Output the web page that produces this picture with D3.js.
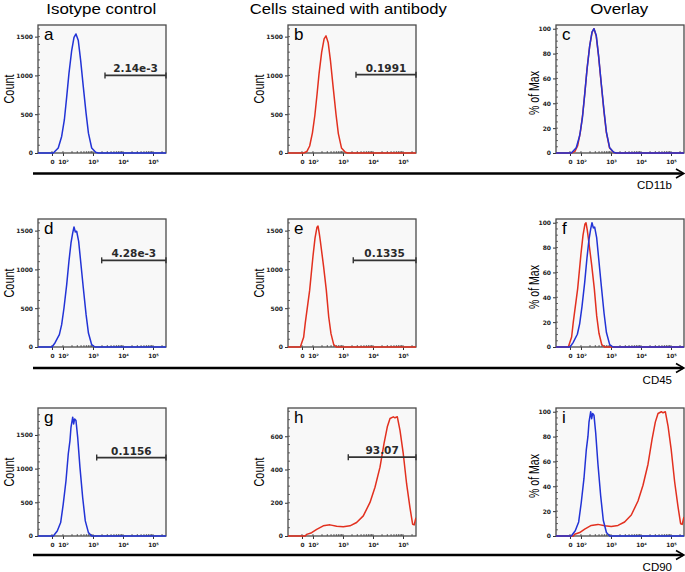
<!DOCTYPE html>
<html><head><meta charset="utf-8">
<script src="https://cdn.jsdelivr.net/npm/d3@7"></script>
<style>body{margin:0;background:#fff}svg{display:block}</style>
</head><body><svg id="c" width="685" height="572"></svg>
<script>
// ---------- data ----------
const columnTitles = ["Isotype control", "Cells stained with antibody", "Overlay"];
const markers = ["CD11b", "CD45", "CD90"];
const panelLetters = [["a","b","c"],["d","e","f"],["g","h","i"]];
const gateLabels = [["2.14e-3","0.1991"],["4.28e-3","0.1335"],["0.1156","93.07"]];
const gateStart = [[2512, 2712],[1950, 2200],[1330, 1500]];
const gateCount = [[1000, 1010],[1117, 1117],[1164, 474]];
const xTickValues = [0, 100, 1000, 10000, 100000];
const xTickLabels = ["0", "10\u00b2", "10\u00b3", "10\u2074", "10\u2075"];
const xMinorTicks = [200,300,400,500,600,700,800,900,2000,3000,4000,5000,6000,7000,8000,9000,
  20000,30000,40000,50000,60000,70000,80000,90000,200000];
const countTicks = [[0,500,1000,1500],[0,500,1000,1500],[0,500,1000,1500]];
const countTicksH = [0,200,400,600];
const pctTicks = [0,20,40,60,80,100];
const countMax = [[1650,1650],[1650,1650],[1900,770]];
const xMin = -127, xMax = 271000;

// isotype control histograms (intensity, count)
const isoCD11b = [[-127,0],[12,0],[57,64],[88,213],[111,426],[133,724],[158,1023],[195,1321],[233,1491],
  [271,1534],[324,1449],[388,1193],[476,852],[589,511],[705,256],[905,64],[1230,9],[1500,0],[271000,0]];
const isoCD45 = [[-127,0],[0,0],[27,52],[67,159],[88,288],[108,503],[133,804],[158,1105],[185,1341],
  [211,1470],[233,1547],[258,1483],[286,1492],[333,1362],[388,1105],[476,761],[589,417],[705,180],
  [905,30],[1170,0],[271000,0]];
const isoCD90 = [[-127,0],[12,0],[48,75],[79,200],[102,472],[126,820],[150,1217],[171,1416],[185,1614],
  [211,1763],[227,1664],[245,1738],[271,1714],[309,1465],[368,1018],[453,571],[554,224],[705,50],
  [905,0],[271000,0]];
// stained cells histograms (intensity, count)
const abCD11b = [[-127,0],[15,0],[45,20],[70,90],[95,260],[115,480],[137,760],[160,1030],[195,1300],
  [235,1470],[272,1510],[322,1420],[385,1180],[470,850],[585,500],[700,250],[890,65],[1200,10],
  [1450,0],[271000,0]];
const abCD45 = [[-127,0],[-15,0],[15,125],[30,312],[70,733],[100,1170],[117,1404],[136,1545],[147,1560],
  [162,1466],[175,1373],[227,1030],[278,733],[334,390],[398,172],[491,31],[602,0],[271000,0]];
const abCD90 = [[-127,0],[30,0],[43,10],[88,20],[133,40],[220,61],[368,67],[616,59],[1021,55],[1711,61],
  [2843,81],[4753,121],[7943,202],[11659,293],[17113,414],[23263,556],[30000,657],[36900,707],
  [47600,717],[54000,711],[64700,717],[79400,636],[102000,495],[132000,313],[170000,172],
  [209000,71],[236000,67],[262000,101],[271000,110]];

const isoData = [isoCD11b, isoCD45, isoCD90];
const abData = [abCD11b, abCD45, abCD90];

// ---------- layout ----------
const W = 128, H = 128;
const colX = [38, 288, 556];
const rowY = [25, 219, 408];
const arrowY = [173.5, 368, 555];
const BLUE = "#2233d6", RED = "#e2301f";
const svg = d3.select("#c");

function tx(v) { return v >= 100 ? Math.log10(v) : 2 - (100 - v) / 100 * 0.3667; }
function makeX() {
  const lin = d3.scaleLinear().domain([tx(xMin), tx(xMax)]).range([0, W]);
  const s = v => lin(tx(v));
  s.copy = () => makeX();
  s.range = () => lin.range();
  s.domain = () => [xMin, xMax];
  return s;
}
const x = makeX();

const clipId = "clipbox";
svg.append("defs").append("clipPath").attr("id", clipId)
  .append("rect").attr("x", 0).attr("y", -1).attr("width", W).attr("height", H + 2);

function panel(r, c) {
  const g = svg.append("g").attr("transform", `translate(${colX[c]},${rowY[r]})`);
  const overlay = c === 2;
  const yMax = overlay ? 103 : countMax[r][c];
  const y = d3.scaleLinear().domain([0, yMax]).range([H, 0]);
  const yTicks = overlay ? pctTicks : (r === 2 && c === 1 ? countTicksH : countTicks[r]);
  const minorStep = overlay ? 5 : (r === 2 && c === 1 ? 50 : 100);

  g.append("rect").attr("width", W).attr("height", H).attr("fill", "#f8f8f8");

  // axes
  const ya = g.append("g").call(d3.axisLeft(y).tickValues(yTicks).tickFormat(d3.format("d")).tickSize(3).tickPadding(2));
  const xa = g.append("g").attr("transform", `translate(0,${H})`)
    .call(d3.axisBottom(x).tickValues(xTickValues).tickFormat((d, i) => xTickLabels[i]).tickSize(3).tickPadding(4));
  [ya, xa].forEach(a => {
    a.select(".domain").remove();
    a.selectAll("line").attr("stroke", "#333").attr("stroke-width", 1);
    a.selectAll("text").attr("fill", "#222").style("font-family", "DejaVu Sans")
      .style("font-weight", "bold").style("font-size", "6px");
  });
  xa.selectAll("text").style("font-size", "5.8px");
  // minor ticks inward
  g.append("g").selectAll("line").data(d3.range(minorStep, yMax, minorStep)).join("line")
    .attr("x1", 0).attr("x2", 2).attr("y1", d => y(d)).attr("y2", d => y(d))
    .attr("stroke", "#444").attr("stroke-width", 0.8);
  g.append("g").selectAll("line").data(xMinorTicks.concat(xTickValues)).join("line")
    .attr("x1", d => x(d)).attr("x2", d => x(d)).attr("y1", H).attr("y2", H - 2)
    .attr("stroke", "#444").attr("stroke-width", 0.8);

  g.append("rect").attr("width", W).attr("height", H).attr("fill", "none")
    .attr("stroke", "#4a4a4a").attr("stroke-width", 1.3);

  const line = d3.line().x(d => x(d[0])).y(d => y(d[1]));
  const cg = g.append("g").attr("clip-path", `url(#${clipId})`);
  if (overlay) {
    const pct = arr => { const m = d3.max(arr, d => d[1]); return arr.map(d => [d[0], d[1] / m * 100]); };
    cg.append("path").attr("d", line(pct(abData[r]))).attr("fill", "none")
      .attr("stroke", RED).attr("stroke-width", 1.5).attr("stroke-linejoin", "round");
    cg.append("path").attr("d", line(pct(isoData[r]))).attr("fill", "none")
      .attr("stroke", BLUE).attr("stroke-width", 1.5).attr("stroke-linejoin", "round");
  } else {
    const data = c === 0 ? isoData[r] : abData[r];
    cg.append("path").attr("d", line(data)).attr("fill", "none")
      .attr("stroke", c === 0 ? BLUE : RED).attr("stroke-width", 1.5).attr("stroke-linejoin", "round");
    // gate
    const gx0 = x(gateStart[r][c]), gx1 = W, gy = y(gateCount[r][c]);
    const gg = g.append("g").attr("stroke", "#333");
    gg.append("line").attr("x1", gx0).attr("x2", gx1).attr("y1", gy).attr("y2", gy).attr("stroke-width", 1.8);
    gg.append("line").attr("x1", gx0).attr("x2", gx0).attr("y1", gy - 3).attr("y2", gy + 3).attr("stroke-width", 1.4);
    gg.append("line").attr("x1", gx1).attr("x2", gx1).attr("y1", gy - 3).attr("y2", gy + 3).attr("stroke-width", 1.4);
    g.append("text").attr("x", (gx0 + gx1) / 2).attr("y", gy - 3).attr("text-anchor", "middle")
      .attr("fill", "#2a2a2a").style("font-family", "DejaVu Sans").style("font-weight", "bold")
      .style("font-size", "10.5px").text(gateLabels[r][c]);
  }
  // panel letter
  g.append("text").attr("x", 6).attr("y", 15).attr("fill", "#000")
    .style("font-family", "Liberation Sans, Arial").style("font-size", "17px").text(panelLetters[r][c]);
  // y label
  const lx = overlay ? -17 : -24;
  g.append("text").attr("transform", `translate(${lx},${overlay ? 68 : 64}) rotate(-90)`)
    .attr("text-anchor", "middle").attr("fill", "#000")
    .style("font-family", "Liberation Sans, Arial").style("font-size", overlay ? "14px" : "15px")
    .attr("textLength", overlay ? 44 : 29).attr("lengthAdjust", "spacingAndGlyphs")
    .text(overlay ? "% of Max" : "Count");
}

for (let r = 0; r < 3; r++) for (let c = 0; c < 3; c++) panel(r, c);

// column titles
const titleCx = [101.3, 348.3, 619.2];
const titleLen = [110, 197, 58];
columnTitles.forEach((t, i) => {
  svg.append("text").attr("x", titleCx[i]).attr("y", 13.5).attr("text-anchor", "middle")
    .attr("textLength", titleLen[i]).attr("lengthAdjust", "spacingAndGlyphs")
    .style("font-family", "Liberation Sans, Arial").style("font-size", "15px").attr("fill", "#000").text(t);
});

// marker arrows
markers.forEach((m, i) => {
  const ay = arrowY[i];
  svg.append("line").attr("x1", 33).attr("x2", 683).attr("y1", ay).attr("y2", ay)
    .attr("stroke", "#000").attr("stroke-width", 2.6);
  svg.append("path").attr("d", `M676,${ay - 4.5}L684,${ay}L676,${ay + 4.5}`)
    .attr("fill", "none").attr("stroke", "#000").attr("stroke-width", 1.6);
  svg.append("text").attr("x", 672).attr("y", ay + 15.5).attr("text-anchor", "end")
    .style("font-family", "Liberation Sans, Arial").style("font-size", "11.5px").attr("fill", "#000").text(m);
});
</script>
</body></html>
